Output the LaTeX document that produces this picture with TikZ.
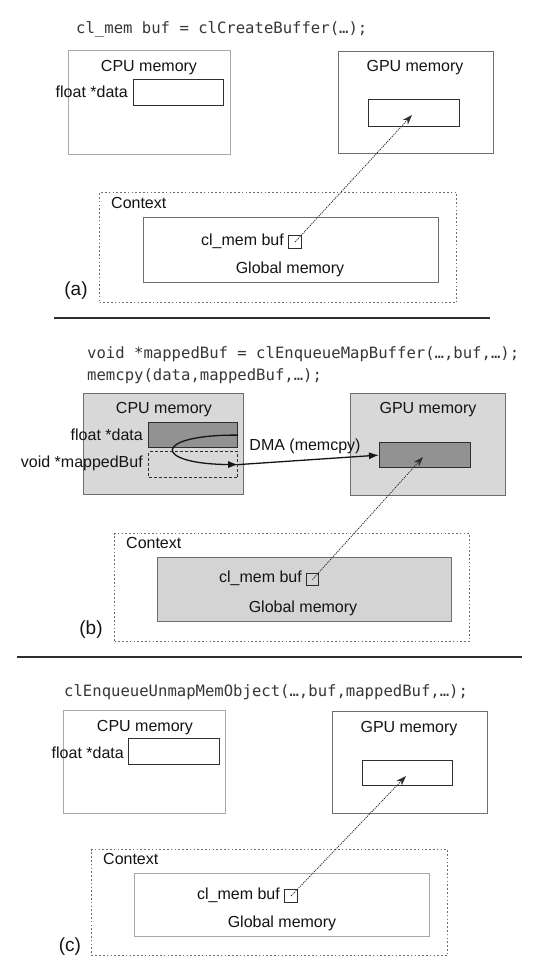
\documentclass[tikz,border=0pt]{standalone}
\usepackage{fontspec}
\setmainfont{Liberation Sans}
\setmonofont{DejaVu Sans Mono}
\usetikzlibrary{arrows.meta}
\definecolor{ink}{HTML}{141414}
\definecolor{boxfill}{HTML}{D8D8D8}
\definecolor{darkfill}{HTML}{929292}
\definecolor{globfill}{HTML}{D4D4D4}
\definecolor{lightedge}{HTML}{A8A8A8}
\definecolor{midedge}{HTML}{6E6E6E}
\definecolor{darkedge}{HTML}{2E2E2E}
\begin{document}
\begin{tikzpicture}[x=1pt,y=-1pt,
  lbl/.style={font=\fontsize{16}{19}\selectfont, text=ink, inner sep=0pt, text height=11.5pt, text depth=0pt},
  tagtxt/.style={font=\fontsize{19}{22}\selectfont, text=ink, inner sep=0pt},
  codetxt/.style={font=\ttfamily\fontsize{15.6}{22}\selectfont, text=ink!85, inner sep=0pt, anchor=west, text height=11.4pt, text depth=0pt},
  membox/.style={rectangle, draw=#1, line width=0.9pt, inner sep=0pt, anchor=north west},
  innerbox/.style={rectangle, draw=darkedge, line width=1.2pt, inner sep=0pt, anchor=north west},
  ctxbox/.style={rectangle, draw=midedge, line width=1pt, dash pattern=on 1.6pt off 2.2pt, inner sep=0pt, anchor=north west},
  mapbox/.style={rectangle, draw=darkedge, line width=1.2pt, dash pattern=on 3pt off 2pt, inner sep=0pt, anchor=north west},
  sqbox/.style={rectangle, draw=darkedge, line width=1pt, inner sep=0pt, anchor=north west},
  ptr/.style={draw=darkedge, line width=0.8pt, dash pattern=on 1.2pt off 1pt, -{Stealth[length=10pt,width=7pt]}},
  dma/.style={draw=ink, line width=1.3pt, -{Latex[length=10pt,width=7pt]}},
  sepline/.style={draw=darkedge, line width=2pt}
]
\useasboundingbox (0,0) rectangle (552,967);
\fill[white] (0,0) rectangle (552,967);

% ---------------- panel (a) ----------------
\node[codetxt] (codeA) at (76,28) {cl\_mem buf = clCreateBuffer(…);};
\node[membox=lightedge, minimum width=162pt, minimum height=104pt] (cpuA) at (68,50) {};
\node[lbl] (cpuAl) at (149,66) {CPU memory};
\node[innerbox, minimum width=90pt, minimum height=26pt] (dataA) at (133,79) {};
\node[lbl, anchor=east] (dataAl) at (128,92) {float *data};
\node[membox=midedge, minimum width=155pt, minimum height=102pt] (gpuA) at (338,51) {};
\node[lbl] (gpuAl) at (415,66) {GPU memory};
\node[innerbox, minimum width=91pt, minimum height=27pt] (gbufA) at (368,99) {};
\node[ctxbox, minimum width=357pt, minimum height=110pt] (ctxA) at (99,192) {};
\node[lbl, anchor=west] (ctxAl) at (111,203) {Context};
\node[membox=midedge, minimum width=295pt, minimum height=65pt] (globA) at (143,217) {};
\node[lbl, anchor=east] (bufAl) at (284,240) {cl\_mem buf};
\node[sqbox, minimum width=13pt, minimum height=13pt] (bufA) at (288,235) {};
\node[lbl] (globAl) at (290,268) {Global memory};
\node[tagtxt] (tagA) at (76,291) {(a)};
\coordinate (tipA) at (412,115);
\draw[ptr] (bufA.center) -- (tipA);
\coordinate (sepA1) at (54,318);
\coordinate (sepA2) at (490,318);
\draw[sepline] (sepA1) -- (sepA2);

% ---------------- panel (b) ----------------
\node[codetxt] (codeB1) at (87,353) {void *mappedBuf = clEnqueueMapBuffer(…,buf,…);};
\node[codetxt] (codeB2) at (87,375) {memcpy(data,mappedBuf,…);};
\node[membox=midedge, fill=boxfill, minimum width=160pt, minimum height=101pt] (cpuB) at (83,393) {};
\node[lbl] (cpuBl) at (164,408) {CPU memory};
\node[innerbox, fill=darkfill, minimum width=89pt, minimum height=25pt] (dataB) at (148,422) {};
\node[lbl, anchor=east] (dataBl) at (143,435) {float *data};
\node[mapbox, minimum width=89pt, minimum height=26pt] (mapB) at (148,451) {};
\node[lbl, anchor=east] (mapBl) at (143,462) {void *mappedBuf};
\node[membox=midedge, fill=boxfill, minimum width=155pt, minimum height=102pt] (gpuB) at (350,393) {};
\node[lbl] (gpuBl) at (428,408) {GPU memory};
\node[innerbox, fill=darkfill, minimum width=91pt, minimum height=25pt] (gbufB) at (379,442) {};
\node[lbl] (dmaBl) at (305,445) {DMA (memcpy)};
\draw[dma] (dataB.east) .. controls (152,434.5) and (152,464) .. (mapB.east);
\draw[dma] (mapB.east) -- (gbufB.west);
\node[ctxbox, minimum width=355pt, minimum height=108pt] (ctxB) at (114,533) {};
\node[lbl, anchor=west] (ctxBl) at (126,543) {Context};
\node[membox=midedge, fill=globfill, minimum width=294pt, minimum height=64pt] (globB) at (157,557) {};
\node[lbl, anchor=east] (bufBl) at (302,577) {cl\_mem buf};
\node[sqbox, minimum width=12pt, minimum height=12pt] (bufB) at (306,573) {};
\node[lbl] (globBl) at (303,607) {Global memory};
\node[tagtxt] (tagB) at (91,630) {(b)};
\coordinate (tipB) at (423,457);
\draw[ptr] (bufB.center) -- (tipB);
\coordinate (sepB1) at (17,657);
\coordinate (sepB2) at (522,657);
\draw[sepline] (sepB1) -- (sepB2);

% ---------------- panel (c) ----------------
\node[codetxt] (codeC) at (64,691) {clEnqueueUnmapMemObject(…,buf,mappedBuf,…);};
\node[membox=lightedge, minimum width=162pt, minimum height=103pt] (cpuC) at (63,710) {};
\node[lbl] (cpuCl) at (145,726) {CPU memory};
\node[innerbox, minimum width=91pt, minimum height=26pt] (dataC) at (128,738) {};
\node[lbl, anchor=east] (dataCl) at (124,753) {float *data};
\node[membox=midedge, minimum width=155pt, minimum height=102pt] (gpuC) at (332,711) {};
\node[lbl] (gpuCl) at (409,727) {GPU memory};
\node[innerbox, minimum width=90pt, minimum height=25pt] (gbufC) at (362,760) {};
\node[ctxbox, minimum width=356pt, minimum height=106pt] (ctxC) at (91,849) {};
\node[lbl, anchor=west] (ctxCl) at (103,859) {Context};
\node[membox=lightedge, minimum width=295pt, minimum height=63pt] (globC) at (134,873) {};
\node[lbl, anchor=east] (bufCl) at (280,894) {cl\_mem buf};
\node[sqbox, minimum width=13pt, minimum height=13pt] (bufC) at (284,889) {};
\node[lbl] (globCl) at (282,922) {Global memory};
\node[tagtxt] (tagC) at (70,947) {(c)};
\coordinate (tipC) at (406,776);
\draw[ptr] (bufC.center) -- (tipC);
\end{tikzpicture}
\end{document}
